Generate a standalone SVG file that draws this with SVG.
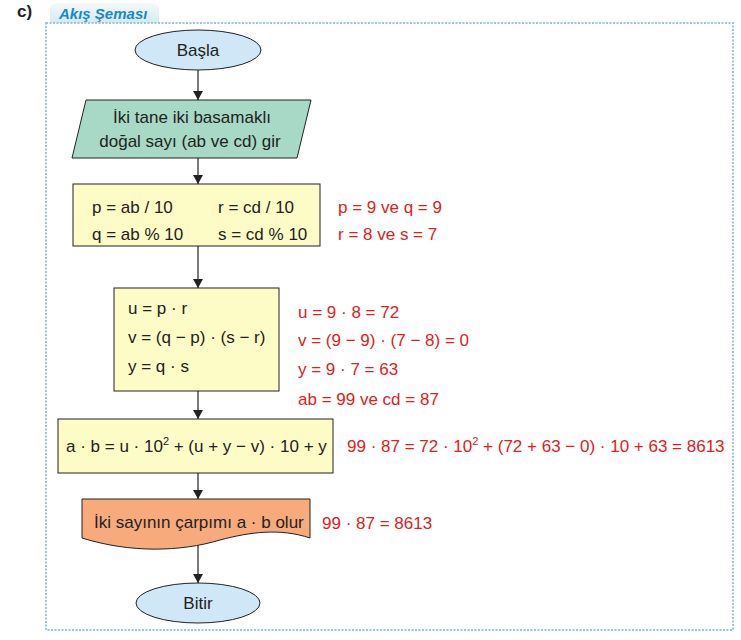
<svg xmlns="http://www.w3.org/2000/svg" width="741" height="640" viewBox="0 0 741 640">
<style>
text{font-family:"Liberation Sans",Arial,sans-serif;font-size:17px;fill:#222}
.r{fill:#e0201c}
.n{stroke:#222;stroke-width:1}
.c{stroke:#222;stroke-width:1.2;fill:none}
</style>
<defs>
<marker id="a" markerWidth="10" markerHeight="10" refX="9" refY="5" orient="auto" markerUnits="userSpaceOnUse"><path d="M0,0 L9,5 L0,10 Z" fill="#222"/></marker>
<linearGradient id="tg" x1="0" y1="0" x2="0" y2="1"><stop offset="0" stop-color="#f4f9fc"/><stop offset="1" stop-color="#d6e9f3"/></linearGradient>
</defs>
<rect width="741" height="640" fill="#fff"/>
<text x="17" y="17" style="font-weight:bold;font-size:17px">c)</text>
<path d="M50,23 L50,10 Q50,3 57,3 L152,3 Q159,3 159,10 L159,23 Z" fill="url(#tg)"/>
<text x="59" y="19" style="font-weight:bold;font-style:italic;font-size:15px;fill:#1a8ac4">Akış Şeması</text>
<rect x="46" y="23" width="687" height="607" fill="none" stroke="#9cc4dc" stroke-width="2" stroke-dasharray="2,1.5"/>
<g id="connectors">
<line class="c" x1="198" y1="70" x2="198" y2="100" marker-end="url(#a)"/>
<line class="c" x1="198" y1="158" x2="198" y2="184" marker-end="url(#a)"/>
<line class="c" x1="198" y1="246" x2="198" y2="288" marker-end="url(#a)"/>
<line class="c" x1="198" y1="391" x2="198" y2="419" marker-end="url(#a)"/>
<line class="c" x1="198" y1="473" x2="198" y2="499" marker-end="url(#a)"/>
<line class="c" x1="198" y1="540" x2="198" y2="583" marker-end="url(#a)"/>
</g>
<g id="start"><ellipse class="n" cx="198" cy="50" rx="63" ry="20" fill="#cfe7f7"/><text x="198" y="56" text-anchor="middle">Başla</text></g>
<g id="input"><path class="n" d="M86,100 L311,100 L297,158 L72,158 Z" fill="#a8d9c6"/>
<text x="192" y="123" text-anchor="middle">İki tane iki basamaklı</text><text x="190" y="147" text-anchor="middle">doğal sayı (ab ve cd) gir</text></g>
<g id="p1"><rect class="n" x="73" y="184" width="247" height="62" fill="#fdfbc6"/>
<text x="92" y="213">p = ab / 10</text><text x="218" y="213">r = cd / 10</text>
<text x="92" y="240">q = ab % 10</text><text x="218" y="240">s = cd % 10</text></g>
<g id="n1"><text class="r" x="338" y="213">p = 9  ve  q = 9</text><text class="r" x="338" y="240">r = 8  ve  s = 7</text></g>
<g id="p2"><rect class="n" x="114" y="288" width="165" height="103" fill="#fdfbc6"/>
<text x="128" y="314">u = p · r</text><text x="128" y="343">v = (q − p) · (s − r)</text><text x="128" y="372">y = q · s</text></g>
<g id="n2"><text class="r" x="298" y="318">u = 9 · 8 = 72</text><text class="r" x="298" y="346">v = (9 − 9) · (7 − 8) = 0</text>
<text class="r" x="298" y="375">y = 9 · 7 = 63</text><text class="r" x="298" y="405">ab = 99  ve  cd = 87</text></g>
<g id="p3"><rect class="n" x="58" y="419" width="275" height="54" fill="#fdfbc6"/>
<text x="66" y="452">a · b = u · 10<tspan dy="-7" font-size="11">2</tspan><tspan dy="7"> + (u + y − v) · 10 + y</tspan></text></g>
<g id="n3"><text class="r" x="347" y="452">99 · 87 = 72 · 10<tspan dy="-7" font-size="11" class="r">2</tspan><tspan dy="7"> + (72 + 63 − 0) · 10 + 63 = 8613</tspan></text></g>
<g id="output"><path class="n" d="M82,499 L310,499 L310,538 C280,528 250,532 220,540 C180,552 130,553 82,538 Z" fill="#f7aa7c"/>
<text x="94" y="528">İki sayının çarpımı a · b olur</text></g>
<g id="n4"><text class="r" x="322" y="529">99 · 87 = 8613</text></g>
<g id="end"><ellipse class="n" cx="198" cy="603" rx="62" ry="20" fill="#cfe7f7"/><text x="198" y="609" text-anchor="middle">Bitir</text></g>
</svg>
